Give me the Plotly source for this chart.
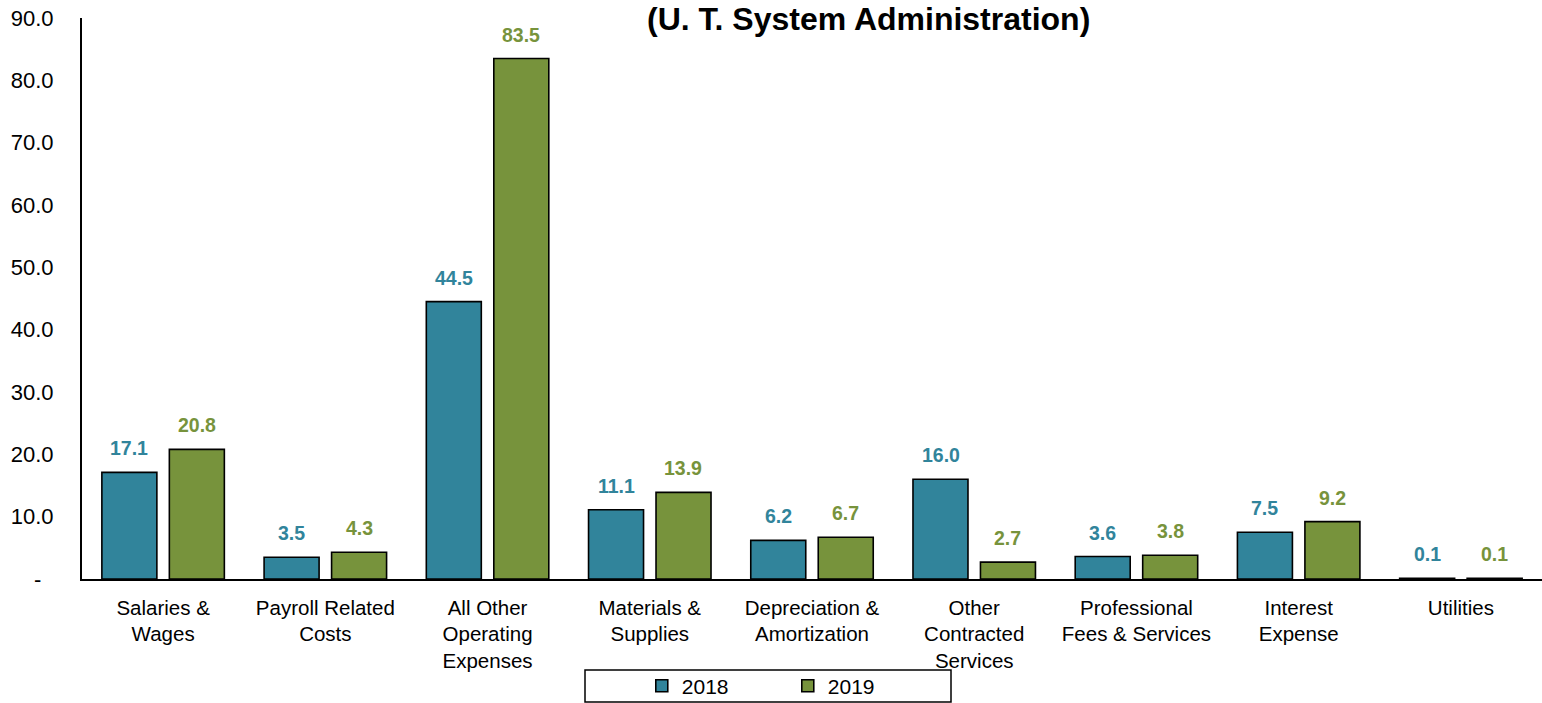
import plotly.graph_objects as go

categories = [
    "Salaries &<br>Wages",
    "Payroll Related<br>Costs",
    "All Other<br>Operating<br>Expenses",
    "Materials &<br>Supplies",
    "Depreciation &<br>Amortization",
    "Other<br>Contracted<br>Services",
    "Professional<br>Fees & Services",
    "Interest<br>Expense",
    "Utilities",
]
values_2018 = [17.1, 3.5, 44.5, 11.1, 6.2, 16.0, 3.6, 7.5, 0.1]
values_2019 = [20.8, 4.3, 83.5, 13.9, 6.7, 2.7, 3.8, 9.2, 0.1]
tick_vals = [0, 10, 20, 30, 40, 50, 60, 70, 80, 90]
tick_text = ["-\u00a0\u00a0"] + ["%.1f" % v for v in tick_vals[1:]]

teal = "#31849B"
green = "#77933C"
font = "Arial, Liberation Sans, sans-serif"

fig = go.Figure()
fig.add_trace(
    go.Bar(
        name="2018",
        x=categories,
        y=values_2018,
        marker=dict(color=teal, line=dict(color="black", width=1.6)),
    )
)
fig.add_trace(
    go.Bar(
        name="2019",
        x=categories,
        y=values_2019,
        marker=dict(color=green, line=dict(color="black", width=1.6)),
    )
)

# value labels above each bar
annotations = []
for vals, shift, col in [(values_2018, -33.7, teal), (values_2019, 33.7, green)]:
    for cat, v in zip(categories, vals):
        annotations.append(
            dict(
                x=cat, y=v, xshift=shift, yshift=11,
                text="%.1f" % v, showarrow=False, yanchor="bottom",
                font=dict(family=font, size=19.5, color=col, weight="bold"),
            )
        )

# title (top line is cut off in the original)
annotations.append(
    dict(
        x=0.539, y=0.962, xref="paper", yref="paper",
        text="(U. T. System Administration)", showarrow=False,
        yanchor="bottom",
        font=dict(family=font, size=32, color="black", weight="bold"),
    )
)

fig.update_layout(
    width=1542,
    height=703,
    margin=dict(l=82, r=0, t=18, b=124),
    plot_bgcolor="white",
    paper_bgcolor="white",
    bargap=0.168,
    bargroupgap=0.185,
    font=dict(family=font, size=20, color="black"),
    annotations=annotations,
    showlegend=True,
    legend=dict(
        orientation="h",
        xref="container", yref="container",
        x=0.4162, xanchor="left",
        y=0.024, yanchor="middle",
        entrywidth=101,
        font=dict(size=21),
        bgcolor="rgba(0,0,0,0)",
    ),
    shapes=[
        dict(
            type="rect", xref="paper", yref="paper",
            x0=(585 - 82) / 1460, x1=(951 - 82) / 1460,
            y0=-0.2192, y1=-0.1622,
            line=dict(color="black", width=1.5),
        )
    ],
)
fig.update_xaxes(
    showline=True, linecolor="black", linewidth=2,
    ticks="", tickangle=0, ticklabelstandoff=9,
    tickfont=dict(size=20.5), automargin=False,
)
fig.update_yaxes(
    range=[0, 90],
    tickvals=tick_vals,
    ticktext=tick_text,
    showline=True, linecolor="black", linewidth=2,
    showgrid=False, zeroline=False,
    ticks="", ticklabelstandoff=22, ticklabeloverflow="allow",
    tickfont=dict(size=22), automargin=False,
)

# drop the default page margin so the figure fills the window exactly
fig.write_html(
    "out.html",
    config={"displayModeBar": False},
    post_script="document.body.style.margin='0';",
)
